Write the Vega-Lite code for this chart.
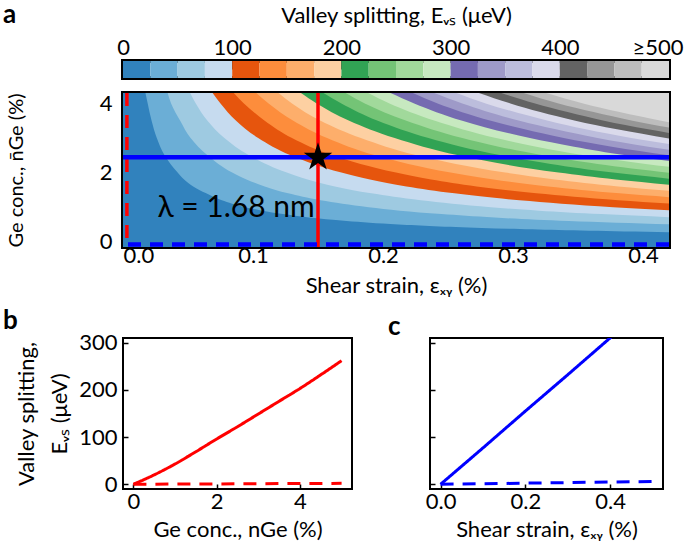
{
  "$schema": "https://vega.github.io/schema/vega-lite/v6.json",
  "padding": {"left": 1, "top": 0, "right": 2, "bottom": 2},
  "background": "white",
  "config": {
    "font": "Lato",
    "view": {"stroke": "black", "strokeWidth": 2},
    "axis": {"grid": false, "domain": false, "labelFontSize": 22, "titleFontSize": 22, "labelColor": "black", "titleColor": "black", "tickColor": "black", "tickSize": -5, "tickWidth": 1.5, "labelPadding": 11, "titleFontWeight": "normal", "labelFont": "Lato", "titleFont": "Lato"},
    "axisX": {"labelPadding": 7},
    "title": {"fontSize": 26, "fontWeight": "bold", "anchor": "start", "frame": "group", "color": "black", "font": "Lato"}
  },
  "datasets": {
    "bar": [
      {"l": 0, "h": 25}, {"l": 25, "h": 50}, {"l": 50, "h": 75}, {"l": 75, "h": 100},
      {"l": 100, "h": 125}, {"l": 125, "h": 150}, {"l": 150, "h": 175}, {"l": 175, "h": 200},
      {"l": 200, "h": 225}, {"l": 225, "h": 250}, {"l": 250, "h": 275}, {"l": 275, "h": 300},
      {"l": 300, "h": 325}, {"l": 325, "h": 350}, {"l": 350, "h": 375}, {"l": 375, "h": 400},
      {"l": 400, "h": 425}, {"l": 425, "h": 450}, {"l": 450, "h": 475}, {"l": 475, "h": 500}
    ],
    "bands": [
      {"l": 0, "n": -0.5, "e": 0}, {"l": 0, "n": 4.6, "e": 0},
      {"l": 25, "n": 0.279, "e": 0.42}, {"l": 25, "n": 0.3, "e": 0.386}, {"l": 25, "n": 0.4, "e": 0.276}, {"l": 25, "n": 0.5, "e": 0.212}, {"l": 25, "n": 0.6, "e": 0.172}, {"l": 25, "n": 0.7, "e": 0.143}, {"l": 25, "n": 0.8, "e": 0.123}, {"l": 25, "n": 0.9, "e": 0.107}, {"l": 25, "n": 1.0, "e": 0.094}, {"l": 25, "n": 1.2, "e": 0.076}, {"l": 25, "n": 1.4, "e": 0.064}, {"l": 25, "n": 1.6, "e": 0.054}, {"l": 25, "n": 1.8, "e": 0.047}, {"l": 25, "n": 2.0, "e": 0.042}, {"l": 25, "n": 2.5, "e": 0.032}, {"l": 25, "n": 3.0, "e": 0.026}, {"l": 25, "n": 3.5, "e": 0.022}, {"l": 25, "n": 4.0, "e": 0.019}, {"l": 25, "n": 4.35, "e": 0.017},
      {"l": 50, "n": 0.504, "e": 0.42}, {"l": 50, "n": 0.6, "e": 0.343}, {"l": 50, "n": 0.7, "e": 0.286}, {"l": 50, "n": 0.8, "e": 0.245}, {"l": 50, "n": 0.9, "e": 0.213}, {"l": 50, "n": 1.0, "e": 0.189}, {"l": 50, "n": 1.2, "e": 0.152}, {"l": 50, "n": 1.4, "e": 0.127}, {"l": 50, "n": 1.6, "e": 0.109}, {"l": 50, "n": 1.8, "e": 0.095}, {"l": 50, "n": 2.0, "e": 0.084}, {"l": 50, "n": 2.5, "e": 0.065}, {"l": 50, "n": 3.0, "e": 0.052}, {"l": 50, "n": 3.5, "e": 0.044}, {"l": 50, "n": 4.0, "e": 0.037}, {"l": 50, "n": 4.35, "e": 0.034},
      {"l": 75, "n": 0.713, "e": 0.42}, {"l": 75, "n": 0.8, "e": 0.368}, {"l": 75, "n": 0.9, "e": 0.32}, {"l": 75, "n": 1.0, "e": 0.283}, {"l": 75, "n": 1.2, "e": 0.229}, {"l": 75, "n": 1.4, "e": 0.191}, {"l": 75, "n": 1.6, "e": 0.163}, {"l": 75, "n": 1.8, "e": 0.142}, {"l": 75, "n": 2.0, "e": 0.126}, {"l": 75, "n": 2.5, "e": 0.097}, {"l": 75, "n": 3.0, "e": 0.078}, {"l": 75, "n": 3.5, "e": 0.065}, {"l": 75, "n": 4.0, "e": 0.056}, {"l": 75, "n": 4.35, "e": 0.051},
      {"l": 100, "n": 0.912, "e": 0.42}, {"l": 100, "n": 1.0, "e": 0.377}, {"l": 100, "n": 1.2, "e": 0.305}, {"l": 100, "n": 1.4, "e": 0.255}, {"l": 100, "n": 1.6, "e": 0.218}, {"l": 100, "n": 1.8, "e": 0.19}, {"l": 100, "n": 2.0, "e": 0.168}, {"l": 100, "n": 2.5, "e": 0.129}, {"l": 100, "n": 3.0, "e": 0.104}, {"l": 100, "n": 3.5, "e": 0.087}, {"l": 100, "n": 4.0, "e": 0.075}, {"l": 100, "n": 4.35, "e": 0.068},
      {"l": 125, "n": 1.104, "e": 0.42}, {"l": 125, "n": 1.2, "e": 0.381}, {"l": 125, "n": 1.4, "e": 0.318}, {"l": 125, "n": 1.6, "e": 0.272}, {"l": 125, "n": 1.8, "e": 0.237}, {"l": 125, "n": 2.0, "e": 0.21}, {"l": 125, "n": 2.5, "e": 0.161}, {"l": 125, "n": 3.0, "e": 0.13}, {"l": 125, "n": 3.5, "e": 0.109}, {"l": 125, "n": 4.0, "e": 0.093}, {"l": 125, "n": 4.35, "e": 0.084},
      {"l": 150, "n": 1.29, "e": 0.42}, {"l": 150, "n": 1.4, "e": 0.382}, {"l": 150, "n": 1.6, "e": 0.327}, {"l": 150, "n": 1.8, "e": 0.285}, {"l": 150, "n": 2.0, "e": 0.252}, {"l": 150, "n": 2.5, "e": 0.194}, {"l": 150, "n": 3.0, "e": 0.157}, {"l": 150, "n": 3.5, "e": 0.131}, {"l": 150, "n": 4.0, "e": 0.112}, {"l": 150, "n": 4.35, "e": 0.101},
      {"l": 175, "n": 1.472, "e": 0.42}, {"l": 175, "n": 1.6, "e": 0.381}, {"l": 175, "n": 1.8, "e": 0.332}, {"l": 175, "n": 2.0, "e": 0.294}, {"l": 175, "n": 2.5, "e": 0.226}, {"l": 175, "n": 3.0, "e": 0.183}, {"l": 175, "n": 3.5, "e": 0.152}, {"l": 175, "n": 4.0, "e": 0.13}, {"l": 175, "n": 4.35, "e": 0.118},
      {"l": 200, "n": 1.65, "e": 0.42}, {"l": 200, "n": 1.8, "e": 0.379}, {"l": 200, "n": 2.0, "e": 0.335}, {"l": 200, "n": 2.5, "e": 0.258}, {"l": 200, "n": 3.0, "e": 0.209}, {"l": 200, "n": 3.5, "e": 0.174}, {"l": 200, "n": 4.0, "e": 0.149}, {"l": 200, "n": 4.35, "e": 0.135},
      {"l": 225, "n": 1.825, "e": 0.42}, {"l": 225, "n": 2.0, "e": 0.377}, {"l": 225, "n": 2.25, "e": 0.329}, {"l": 225, "n": 2.5, "e": 0.291}, {"l": 225, "n": 2.75, "e": 0.26}, {"l": 225, "n": 3.0, "e": 0.235}, {"l": 225, "n": 3.5, "e": 0.196}, {"l": 225, "n": 4.0, "e": 0.168}, {"l": 225, "n": 4.35, "e": 0.152},
      {"l": 250, "n": 1.997, "e": 0.42}, {"l": 250, "n": 2.25, "e": 0.365}, {"l": 250, "n": 2.5, "e": 0.323}, {"l": 250, "n": 2.75, "e": 0.289}, {"l": 250, "n": 3.0, "e": 0.261}, {"l": 250, "n": 3.5, "e": 0.218}, {"l": 250, "n": 4.0, "e": 0.186}, {"l": 250, "n": 4.35, "e": 0.169},
      {"l": 275, "n": 2.166, "e": 0.42}, {"l": 275, "n": 2.25, "e": 0.402}, {"l": 275, "n": 2.5, "e": 0.355}, {"l": 275, "n": 2.75, "e": 0.318}, {"l": 275, "n": 3.0, "e": 0.287}, {"l": 275, "n": 3.5, "e": 0.24}, {"l": 275, "n": 4.0, "e": 0.205}, {"l": 275, "n": 4.35, "e": 0.186},
      {"l": 300, "n": 2.333, "e": 0.42}, {"l": 300, "n": 2.5, "e": 0.387}, {"l": 300, "n": 2.75, "e": 0.347}, {"l": 300, "n": 3.0, "e": 0.313}, {"l": 300, "n": 3.5, "e": 0.261}, {"l": 300, "n": 4.0, "e": 0.224}, {"l": 300, "n": 4.35, "e": 0.203},
      {"l": 325, "n": 2.498, "e": 0.42}, {"l": 325, "n": 2.75, "e": 0.376}, {"l": 325, "n": 3.0, "e": 0.339}, {"l": 325, "n": 3.25, "e": 0.309}, {"l": 325, "n": 3.5, "e": 0.283}, {"l": 325, "n": 4.0, "e": 0.242}, {"l": 325, "n": 4.35, "e": 0.22},
      {"l": 350, "n": 2.662, "e": 0.42}, {"l": 350, "n": 2.75, "e": 0.404}, {"l": 350, "n": 3.0, "e": 0.365}, {"l": 350, "n": 3.25, "e": 0.333}, {"l": 350, "n": 3.5, "e": 0.305}, {"l": 350, "n": 4.0, "e": 0.261}, {"l": 350, "n": 4.35, "e": 0.236},
      {"l": 375, "n": 2.823, "e": 0.42}, {"l": 375, "n": 3.0, "e": 0.391}, {"l": 375, "n": 3.25, "e": 0.356}, {"l": 375, "n": 3.5, "e": 0.327}, {"l": 375, "n": 4.0, "e": 0.279}, {"l": 375, "n": 4.35, "e": 0.253},
      {"l": 400, "n": 2.985, "e": 0.42}, {"l": 400, "n": 3.25, "e": 0.38}, {"l": 400, "n": 3.5, "e": 0.348}, {"l": 400, "n": 3.75, "e": 0.321}, {"l": 400, "n": 4.0, "e": 0.298}, {"l": 400, "n": 4.35, "e": 0.27},
      {"l": 425, "n": 3.142, "e": 0.42}, {"l": 425, "n": 3.25, "e": 0.404}, {"l": 425, "n": 3.5, "e": 0.37}, {"l": 425, "n": 3.75, "e": 0.342}, {"l": 425, "n": 4.0, "e": 0.317}, {"l": 425, "n": 4.35, "e": 0.287},
      {"l": 450, "n": 3.301, "e": 0.42}, {"l": 450, "n": 3.5, "e": 0.392}, {"l": 450, "n": 3.75, "e": 0.362}, {"l": 450, "n": 4.0, "e": 0.335}, {"l": 450, "n": 4.35, "e": 0.304},
      {"l": 475, "n": 3.457, "e": 0.42}, {"l": 475, "n": 3.5, "e": 0.414}, {"l": 475, "n": 3.75, "e": 0.382}, {"l": 475, "n": 4.0, "e": 0.354}, {"l": 475, "n": 4.35, "e": 0.321}
    ],
    "vlines": [{"e": 0.003, "s": "dashed"}, {"e": 0.15, "s": "solid"}],
    "hlines": [{"n": 2.44, "s": "solid"}, {"n": -0.08, "s": "dashed"}],
    "star": [{"e": 0.15, "n": 2.44}],
    "lbl": [{"e": 0.087, "n": 0.72, "t": "λ = 1.68 nm"}],
    "bdata": [
      {"n": 0, "E": 0, "s": "solid"}, {"n": 0.5, "E": 20, "s": "solid"}, {"n": 1, "E": 43, "s": "solid"}, {"n": 1.5, "E": 69, "s": "solid"}, {"n": 2, "E": 96, "s": "solid"}, {"n": 2.5, "E": 122, "s": "solid"}, {"n": 3, "E": 149, "s": "solid"}, {"n": 3.5, "E": 176, "s": "solid"}, {"n": 4, "E": 203, "s": "solid"}, {"n": 4.5, "E": 232, "s": "solid"}, {"n": 5, "E": 262, "s": "solid"},
      {"n": 0, "E": 0, "s": "dashed"}, {"n": 2.5, "E": 1, "s": "dashed"}, {"n": 5, "E": 2, "s": "dashed"}
    ],
    "cdata": [
      {"e": 0, "E": 0, "s": "solid"}, {"e": 0.1, "E": 77, "s": "solid"}, {"e": 0.2, "E": 155, "s": "solid"}, {"e": 0.3, "E": 232, "s": "solid"}, {"e": 0.4, "E": 310, "s": "solid"}, {"e": 0.5, "E": 388, "s": "solid"},
      {"e": 0, "E": 0, "s": "dashed"}, {"e": 0.25, "E": 3, "s": "dashed"}, {"e": 0.5, "E": 6, "s": "dashed"}
    ]
  },
  "spacing": 8,
  "vconcat": [
    {
      "spacing": 10,
      "vconcat": [
        {
          "width": 546, "height": 17,
          "view": {"stroke": "black", "strokeWidth": 4},
          "title": {"text": "a", "dx": -120, "dy": 24, "offset": 0},
          "data": {"name": "bar"},
          "mark": "rect",
          "encoding": {
            "x": {"field": "l", "type": "quantitative", "scale": {"domain": [0, 500], "nice": false, "zero": false},
              "axis": {"orient": "top", "values": [0, 100, 200, 300, 400, 500], "labelExpr": "datum.value == 500 ? '≥500' : datum.label", "tickSize": -8, "labelPadding": 10, "labelFlush": false,
                "labelAlign": {"condition": {"test": "datum.value == 500", "value": "right"}, "value": "center"},
                "labelOffset": {"condition": {"test": "datum.value == 500", "value": 14}, "value": 0},
                "title": "Valley splitting, Eᵥₛ (μeV)", "titlePadding": 9}},
            "x2": {"field": "h"},
            "color": {"field": "l", "type": "ordinal", "legend": null,
              "scale": {"domain": [0, 25, 50, 75, 100, 125, 150, 175, 200, 225, 250, 275, 300, 325, 350, 375, 400, 425, 450, 475],
                "range": ["#3182bd", "#6baed6", "#9ecae1", "#c6dbef", "#e6550d", "#fd8d3c", "#fdae6b", "#fdd0a2", "#31a354", "#74c476", "#a1d99b", "#c7e9c0", "#756bb1", "#9e9ac8", "#bcbddc", "#dadaeb", "#636363", "#969696", "#bdbdbd", "#d9d9d9"]}}
          }
        },
        {
          "width": 546, "height": 154,
          "view": {"stroke": "black", "strokeWidth": 4},
          "encoding": {
            "x": {"field": "e", "type": "quantitative", "scale": {"domain": [0, 0.42], "nice": false, "zero": false},
              "axis": {"values": [0, 0.1, 0.2, 0.3, 0.4], "format": ".1f", "labelPadding": 3, "title": "Shear strain, εₓᵧ (%)", "titlePadding": 9}},
            "y": {"field": "n", "type": "quantitative", "scale": {"domain": [-0.15, 4.3], "nice": false, "zero": false},
              "axis": {"values": [0, 2, 4], "labelPadding": 16, "title": "Ge conc., n̄Ge (%)", "titleFontSize": 20, "titleX": -97}}
          },
          "layer": [
            {
              "data": {"name": "bands"},
              "mark": {"type": "area", "orient": "horizontal", "interpolate": "monotone", "clip": true},
              "encoding": {
                "x": {"field": "e", "type": "quantitative", "stack": null},
                "x2": {"datum": 0.42},
                "color": {"field": "l", "type": "ordinal", "legend": null,
                  "scale": {"domain": [0, 25, 50, 75, 100, 125, 150, 175, 200, 225, 250, 275, 300, 325, 350, 375, 400, 425, 450, 475],
                    "range": ["#3182bd", "#6baed6", "#9ecae1", "#c6dbef", "#e6550d", "#fd8d3c", "#fdae6b", "#fdd0a2", "#31a354", "#74c476", "#a1d99b", "#c7e9c0", "#756bb1", "#9e9ac8", "#bcbddc", "#dadaeb", "#636363", "#969696", "#bdbdbd", "#d9d9d9"]}}
              }
            },
            {
              "data": {"name": "vlines"},
              "mark": {"type": "rule", "color": "#ff0000", "strokeWidth": 3.5, "clip": true},
              "encoding": {
                "x": {"field": "e", "type": "quantitative"},
                "y": null,
                "strokeDash": {"field": "s", "type": "nominal", "legend": null, "scale": {"domain": ["solid", "dashed"], "range": [[1, 0], [13, 9]]}}
              }
            },
            {
              "data": {"name": "hlines"},
              "mark": {"type": "rule", "color": "#0000ff", "strokeWidth": 4.5, "clip": true},
              "encoding": {
                "y": {"field": "n", "type": "quantitative"},
                "x": null,
                "strokeDash": {"field": "s", "type": "nominal", "legend": null, "scale": {"domain": ["solid", "dashed"], "range": [[1, 0], [13, 15]]}}
              }
            },
            {
              "data": {"name": "star"},
              "mark": {"type": "point", "shape": "M0,-1L0.2245,-0.309L0.9511,-0.309L0.3633,0.118L0.5878,0.809L0,0.382L-0.5878,0.809L-0.3633,0.118L-0.9511,-0.309L-0.2245,-0.309Z", "filled": true, "color": "black", "opacity": 1, "size": 900}
            },
            {
              "data": {"name": "lbl"},
              "mark": {"type": "text", "fontSize": 30, "align": "center", "baseline": "alphabetic", "color": "black"},
              "encoding": {"text": {"field": "t"}}
            }
          ]
        }
      ]
    },
    {
      "spacing": 34,
      "hconcat": [
        {
          "width": 229, "height": 151,
          "title": {"text": "b", "dx": -120, "offset": -2},
          "data": {"name": "bdata"},
          "mark": {"type": "line", "color": "#ff0000", "strokeWidth": 3, "clip": true, "interpolate": "monotone"},
          "encoding": {
            "x": {"field": "n", "type": "quantitative", "scale": {"domain": [-0.25, 5.25], "nice": false, "zero": false},
              "axis": {"values": [0, 2, 4], "title": "Ge conc., nGe (%)", "titlePadding": 7}},
            "y": {"field": "E", "type": "quantitative", "scale": {"domain": [-10, 310], "nice": false, "zero": false},
              "axis": {"values": [0, 100, 200, 300], "title": ["Valley splitting,", "Eᵥₛ (μeV)"], "titleX": -85, "titleLineHeight": 33}},
            "strokeDash": {"field": "s", "type": "nominal", "legend": null, "scale": {"domain": ["solid", "dashed"], "range": [[1, 0], [12, 7]]}}
          }
        },
        {
          "width": 233, "height": 151,
          "title": {"text": "c", "dx": -42, "offset": -2},
          "data": {"name": "cdata"},
          "mark": {"type": "line", "color": "#0000ff", "strokeWidth": 3, "clip": true},
          "encoding": {
            "x": {"field": "e", "type": "quantitative", "scale": {"domain": [-0.025, 0.525], "nice": false, "zero": false},
              "axis": {"values": [0, 0.2, 0.4], "format": ".1f", "title": "Shear strain, εₓᵧ (%)", "titlePadding": 7}},
            "y": {"field": "E", "type": "quantitative", "scale": {"domain": [-10, 310], "nice": false, "zero": false},
              "axis": {"values": [0, 100, 200, 300], "labels": false, "title": null}},
            "strokeDash": {"field": "s", "type": "nominal", "legend": null, "scale": {"domain": ["solid", "dashed"], "range": [[1, 0], [12, 7]]}}
          }
        }
      ]
    }
  ]
}
